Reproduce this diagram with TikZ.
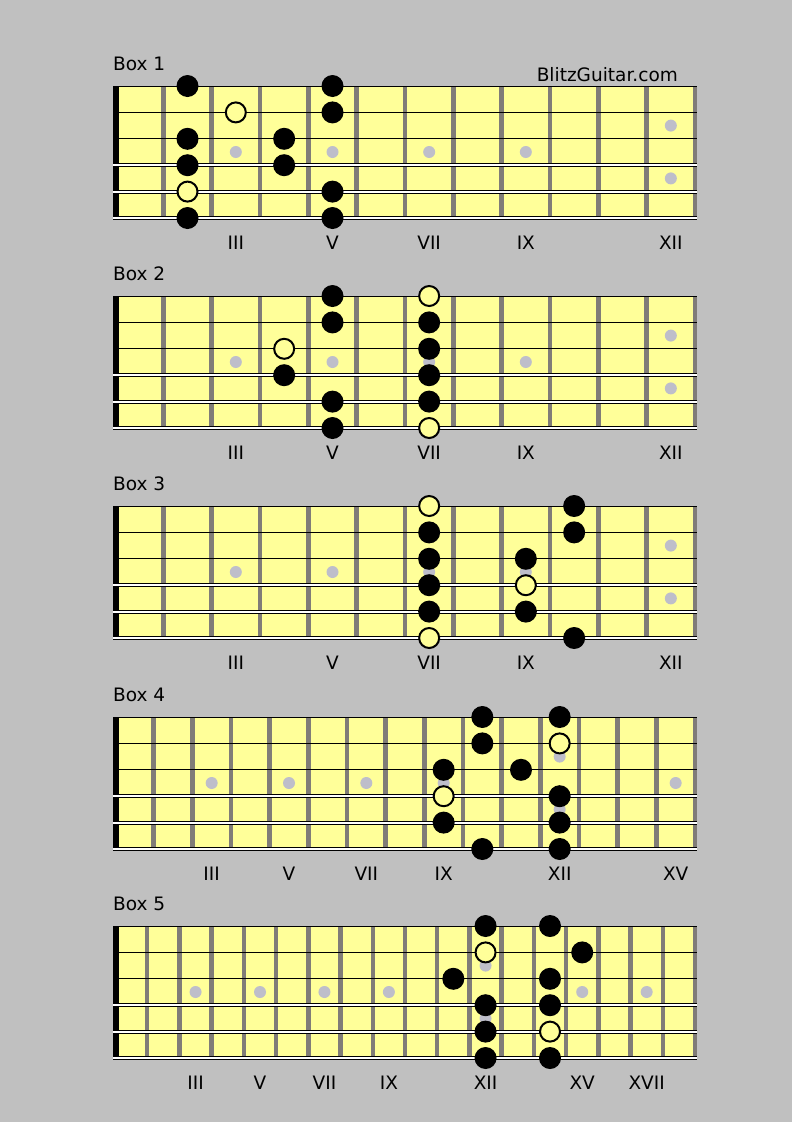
\documentclass[tikz,border=0pt]{standalone}
\usepackage{fontspec}
\setmainfont{DejaVu Sans}
\definecolor{pagegray}{RGB}{192,192,192}
\definecolor{boardyellow}{RGB}{255,255,153}
\definecolor{fretgray}{RGB}{128,124,120}
\definecolor{inlaygray}{RGB}{190,190,202}
\tikzset{
  board/.style={fill=boardyellow},
  fretbar/.style={fill=fretgray},
  inlay/.style={fill=inlaygray},
  thinstring/.style={line width=1pt},
  woundstring/.style={line width=4pt},
  blacknote/.style={fill=black},
  opennote/.style={fill=boardyellow, draw=black, line width=2pt},
  boxtitle/.style={anchor=base west, inner sep=0pt, font=\fontsize{18.5}{22}\selectfont},
  sitename/.style={anchor=base east, inner sep=0pt, font=\fontsize{18.5}{22}\selectfont},
  fretnum/.style={anchor=base, inner sep=0pt, font=\fontsize{18.5}{22}\selectfont}
}
% board: top y : number of frets
\def\fretboard(#1:#2){%
  \fill[board] (115,#1) rectangle (697,#1+132);
  \foreach \f in {1,...,#2}
    \fill[fretbar] ({115+\f*580/#2-2.25},#1) rectangle ({115+\f*580/#2+2.25},#1+132);
}
% inlay dots: top y : number of frets : single dots
\def\inlays(#1:#2:#3){%
  \foreach \f in {#3}
    \fill[inlay] ({115+(\f-0.5)*580/#2},#1+66) circle (6pt);
  \fill[inlay] ({115+11.5*580/#2},#1+39.6) circle (6pt);
  \fill[inlay] ({115+11.5*580/#2},#1+92.4) circle (6pt);
}
% nut and strings: top y
\def\strings(#1){%
  \fill (113,#1) rectangle (119,#1+132);
  \foreach \s in {0,1,2}
    \draw[thinstring] (113,#1+\s*26.4) -- (697,#1+\s*26.4);
  \foreach \s in {3,4,5}{
    \draw[woundstring] (113,#1+\s*26.4) -- (697,#1+\s*26.4);
    \draw[line width=2pt, white] (113,#1+\s*26.4) -- (697,#1+\s*26.4);
  }
}
% notes: top y : number of frets : fret : string
\def\stopped(#1:#2:#3:#4){\fill[blacknote] ({115+(#3-0.5)*580/#2},{#1+(#4-1)*26.4}) circle (11pt);}
\def\rootdot(#1:#2:#3:#4){\draw[opennote] ({115+(#3-0.5)*580/#2},{#1+(#4-1)*26.4}) circle (10pt);}
% fret numbers: top y : number of frets : fret/text list
\def\fretlabels(#1:#2:#3){%
  \foreach \f/\t in {#3}
    \node[fretnum] (n#1-\f) at ({115+(\f-0.5)*580/#2},#1+163) {\t};
}

\begin{document}
\begin{tikzpicture}[x=1pt, y=-1pt]
			%%%%% START %%%%%
			
			\fill[pagegray] (0,0) rectangle (792,1122);
			\useasboundingbox (0,0) rectangle (792,1122);
			
			\node[sitename] (site) at (678,81) {BlitzGuitar.com};
			
			% Box 1
			\node[boxtitle] (box1) at (113,70) {Box 1};
			\fretboard(86:12)
			\inlays(86:12:{3,5,7,9})
			\strings(86)
			\foreach \f/\s in {2/1,2/3,2/4,2/6,4/3,4/4,5/1,5/2,5/5,5/6} \stopped(86:12:\f:\s);
			\foreach \f/\s in {2/5,3/2} \rootdot(86:12:\f:\s);
			\fretlabels(86:12:{3/III,5/V,7/VII,9/IX,12/XII})
			
			% Box 2
			\node[boxtitle] (box2) at (113,280) {Box 2};
			\fretboard(296:12)
			\inlays(296:12:{3,5,7,9})
			\strings(296)
			\foreach \f/\s in {4/4,5/1,5/2,5/5,5/6,7/2,7/3,7/4,7/5} \stopped(296:12:\f:\s);
			\foreach \f/\s in {4/3,7/1,7/6} \rootdot(296:12:\f:\s);
			\fretlabels(296:12:{3/III,5/V,7/VII,9/IX,12/XII})
			
			% Box 3
			\node[boxtitle] (box3) at (113,490) {Box 3};
			\fretboard(506:12)
			\inlays(506:12:{3,5,7,9})
			\strings(506)
			\foreach \f/\s in {7/2,7/3,7/4,7/5,9/3,9/5,10/1,10/2,10/6} \stopped(506:12:\f:\s);
			\foreach \f/\s in {7/1,7/6,9/4} \rootdot(506:12:\f:\s);
			\fretlabels(506:12:{3/III,5/V,7/VII,9/IX,12/XII})
			
			% Box 4
			\node[boxtitle] (box4) at (113,701) {Box 4};
			\fretboard(717:15)
			\inlays(717:15:{3,5,7,9,15})
			\strings(717)
			\foreach \f/\s in {9/3,9/5,10/1,10/2,10/6,11/3,12/1,12/4,12/5,12/6} \stopped(717:15:\f:\s);
			\foreach \f/\s in {9/4,12/2} \rootdot(717:15:\f:\s);
			\fretlabels(717:15:{3/III,5/V,7/VII,9/IX,12/XII,15/XV})
			
			% Box 5
			\node[boxtitle] (box5) at (113,910) {Box 5};
			\fretboard(926:18)
			\inlays(926:18:{3,5,7,9,15,17})
			\strings(926)
			\foreach \f/\s in {11/3,12/1,12/4,12/5,12/6,14/1,14/3,14/4,14/6,15/2} \stopped(926:18:\f:\s);
			\foreach \f/\s in {12/2,14/5} \rootdot(926:18:\f:\s);
			\fretlabels(926:18:{3/III,5/V,7/VII,9/IX,12/XII,15/XV,17/XVII})
			
			%%%%% END %%%%%
\end{tikzpicture}
\end{document}
